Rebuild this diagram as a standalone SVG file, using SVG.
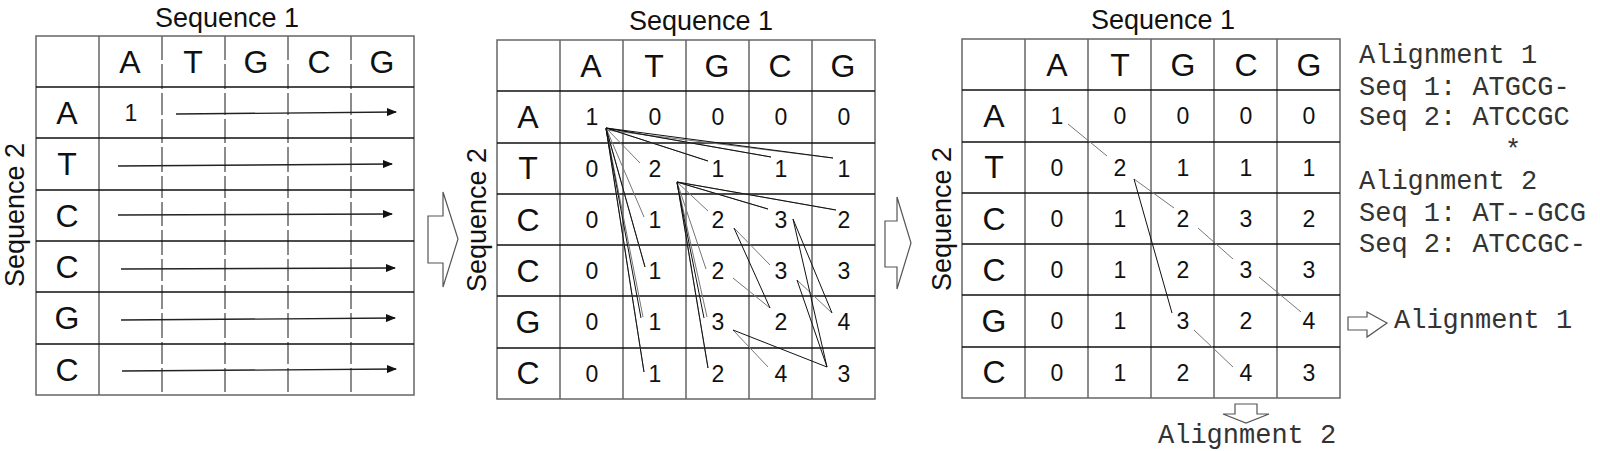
<svg xmlns="http://www.w3.org/2000/svg" width="1600" height="451" viewBox="0 0 1600 451">
<defs>
<marker id="ah" markerWidth="10" markerHeight="8" refX="9" refY="4" orient="auto" markerUnits="userSpaceOnUse"><path d="M0,0 L10,4 L0,8 Z" fill="#111"/></marker>
</defs>
<style>
.g{stroke:#666;stroke-width:1.5;fill:none}
.h{stroke:#111;stroke-width:1.3;fill:none}
.a{stroke:#222;stroke-width:1.3;fill:none;marker-end:url(#ah)}
.t{font-family:"Liberation Sans",Arial,sans-serif;fill:#111;text-anchor:middle}
.L{font-size:32px}
.n{font-size:23px}
.ti{font-size:27px}
.m{font-family:"Liberation Mono","Courier New",monospace;font-size:27px;fill:#333}
.c{stroke:#111;stroke-width:1;fill:none}
.c2{stroke:#777;stroke-width:1;fill:none}
.ar{stroke:#555;stroke-width:1.2;fill:#fff}
</style>
<g id="grid1">
<rect x="36" y="36" width="378" height="359" class="g"/>
<line x1="99" y1="36" x2="99" y2="395" class="g"/>
<path class="g" d="M162 36V395M225 36V395M288 36V395M351 36V395" stroke-dasharray="24 4 25 4 22 4"/>
<path class="h" d="M36 87H414M36 138H414M36 190H414M36 241H414M36 292H414M36 344H414"/>
<text class="t ti" x="227" y="27">Sequence 1</text>
<text class="t ti" transform="translate(24,215) rotate(-90)">Sequence 2</text>
<g class="t L"><text x="130" y="73">A</text><text x="193" y="73">T</text><text x="256" y="73">G</text><text x="319" y="73">C</text><text x="382" y="73">G</text>
<text x="67" y="124">A</text><text x="67" y="175">T</text><text x="67" y="227">C</text><text x="67" y="278">C</text><text x="67" y="329">G</text><text x="67" y="381">C</text></g>
<text class="t n" x="131" y="121">1</text>
</g>
<g id="arrows1">
<line class="a" x1="176" y1="114" x2="396" y2="112"/>
<line class="a" x1="118" y1="166" x2="392" y2="164"/>
<line class="a" x1="118" y1="215" x2="392" y2="214"/>
<line class="a" x1="121" y1="269" x2="395" y2="268"/>
<line class="a" x1="121" y1="320" x2="395" y2="318"/>
<line class="a" x1="122" y1="371" x2="396" y2="369"/>
</g>
<path id="bigarrow1" class="ar" d="M428 216H443V192L458 239L443 287V263H428Z"/>
<g id="grid2">
<rect x="497" y="40" width="378" height="359" class="g"/>
<path class="g" d="M560 40V399M623 40V399M686 40V399M749 40V399M812 40V399"/>
<path class="h" d="M497 91H875M497 143H875M497 194H875M497 245H875M497 296H875M497 348H875"/>
<text class="t ti" x="701" y="30">Sequence 1</text>
<text class="t ti" transform="translate(486,220) rotate(-90)">Sequence 2</text>
<g class="t L"><text x="591" y="77">A</text><text x="654" y="77">T</text><text x="717" y="77">G</text><text x="780" y="77">C</text><text x="843" y="77">G</text>
<text x="528" y="128">A</text><text x="528" y="179">T</text><text x="528" y="231">C</text><text x="528" y="282">C</text><text x="528" y="333">G</text><text x="528" y="384">C</text></g>
<g class="t n">
<text x="592" y="125">1</text><text x="655" y="125">0</text><text x="718" y="125">0</text><text x="781" y="125">0</text><text x="844" y="125">0</text>
<text x="592" y="177">0</text><text x="655" y="177">2</text><text x="718" y="177">1</text><text x="781" y="177">1</text><text x="844" y="177">1</text>
<text x="592" y="228">0</text><text x="655" y="228">1</text><text x="718" y="228">2</text><text x="781" y="228">3</text><text x="844" y="228">2</text>
<text x="592" y="279">0</text><text x="655" y="279">1</text><text x="718" y="279">2</text><text x="781" y="279">3</text><text x="844" y="279">3</text>
<text x="592" y="330">0</text><text x="655" y="330">1</text><text x="718" y="330">3</text><text x="781" y="330">2</text><text x="844" y="330">4</text>
<text x="592" y="382">0</text><text x="655" y="382">1</text><text x="718" y="382">2</text><text x="781" y="382">4</text><text x="844" y="382">3</text>
</g>
</g>
<g id="connectors2">
<path class="c2" d="M606 128L640 163M606 128L708 161M606 128L771 157M606 130L833 158"/>
<path class="c" d="M606 128L708 161M606 128L771 157M606 128L833 158"/>
<path class="c2" d="M606 128L644 217M606 128L645 267M606 128L643 317M606 128L644 372"/>
<path class="c" d="M606 128L645 267M606 128L644 372M606 129L641 318"/>
<path class="c2" d="M677 182L708 211M677 182L768 209M677 182L836 210M677 182L706 269M677 182L707 317M677 182L708 368"/>
<path class="c" d="M677 182L768 209M677 182L836 210M677 182L708 368M677 183L704 318"/>
<path class="c2" d="M734 228L770 265M733 278L770 308M733 330L768 367M797 280L832 313"/>
<path class="c" d="M734 228L770 308M793 219L832 313M793 219L827 367M797 280L827 367M733 330L827 367"/>
</g>
<path id="bigarrow2" class="ar" d="M885 221H897V197L911 243L897 289V267H885Z"/>
<g id="grid3">
<rect x="962" y="39" width="378" height="359" class="g"/>
<path class="g" d="M1025 39V398M1088 39V398M1151 39V398M1214 39V398M1277 39V398"/>
<path class="h" d="M962 90H1340M962 142H1340M962 193H1340M962 244H1340M962 295H1340M962 347H1340"/>
<text class="t ti" x="1163" y="29">Sequence 1</text>
<text class="t ti" transform="translate(951,219) rotate(-90)">Sequence 2</text>
<g class="t L"><text x="1057" y="76">A</text><text x="1120" y="76">T</text><text x="1183" y="76">G</text><text x="1246" y="76">C</text><text x="1309" y="76">G</text>
<text x="994" y="127">A</text><text x="994" y="178">T</text><text x="994" y="230">C</text><text x="994" y="281">C</text><text x="994" y="332">G</text><text x="994" y="383">C</text></g>
<g class="t n">
<text x="1057" y="124">1</text><text x="1120" y="124">0</text><text x="1183" y="124">0</text><text x="1246" y="124">0</text><text x="1309" y="124">0</text>
<text x="1057" y="176">0</text><text x="1120" y="176">2</text><text x="1183" y="176">1</text><text x="1246" y="176">1</text><text x="1309" y="176">1</text>
<text x="1057" y="227">0</text><text x="1120" y="227">1</text><text x="1183" y="227">2</text><text x="1246" y="227">3</text><text x="1309" y="227">2</text>
<text x="1057" y="278">0</text><text x="1120" y="278">1</text><text x="1183" y="278">2</text><text x="1246" y="278">3</text><text x="1309" y="278">3</text>
<text x="1057" y="329">0</text><text x="1120" y="329">1</text><text x="1183" y="329">3</text><text x="1246" y="329">2</text><text x="1309" y="329">4</text>
<text x="1057" y="381">0</text><text x="1120" y="381">1</text><text x="1183" y="381">2</text><text x="1246" y="381">4</text><text x="1309" y="381">3</text>
</g>
</g>
<g id="connectors3">
<path class="c2" d="M1068 124L1107 156M1134 179L1174 208M1198 228L1233 259M1259 277L1301 312M1194 330L1233 367"/>
<path class="c" d="M1134 179L1172 313"/>
</g>
<g id="alignments">
<text class="m" x="1359" y="63">Alignment 1</text>
<text class="m" x="1359" y="95">Seq 1: ATGCG-</text>
<text class="m" x="1359" y="125">Seq 2: ATCCGC</text>
<text class="m" x="1505" y="158">*</text>
<text class="m" x="1359" y="189">Alignment 2</text>
<text class="m" x="1359" y="221">Seq 1: AT--GCG</text>
<text class="m" x="1359" y="252">Seq 2: ATCCGC-</text>
</g>
<g id="out1">
<path class="ar" d="M1348 317H1367V312L1387 323L1367 337V330H1348Z"/>
<text class="m" x="1394" y="328">Alignment 1</text>
</g>
<g id="out2">
<path class="ar" d="M1235 404H1257V414H1269L1246 423L1223 414H1235Z"/>
<text class="m" x="1158" y="443">Alignment 2</text>
</g>
</svg>
